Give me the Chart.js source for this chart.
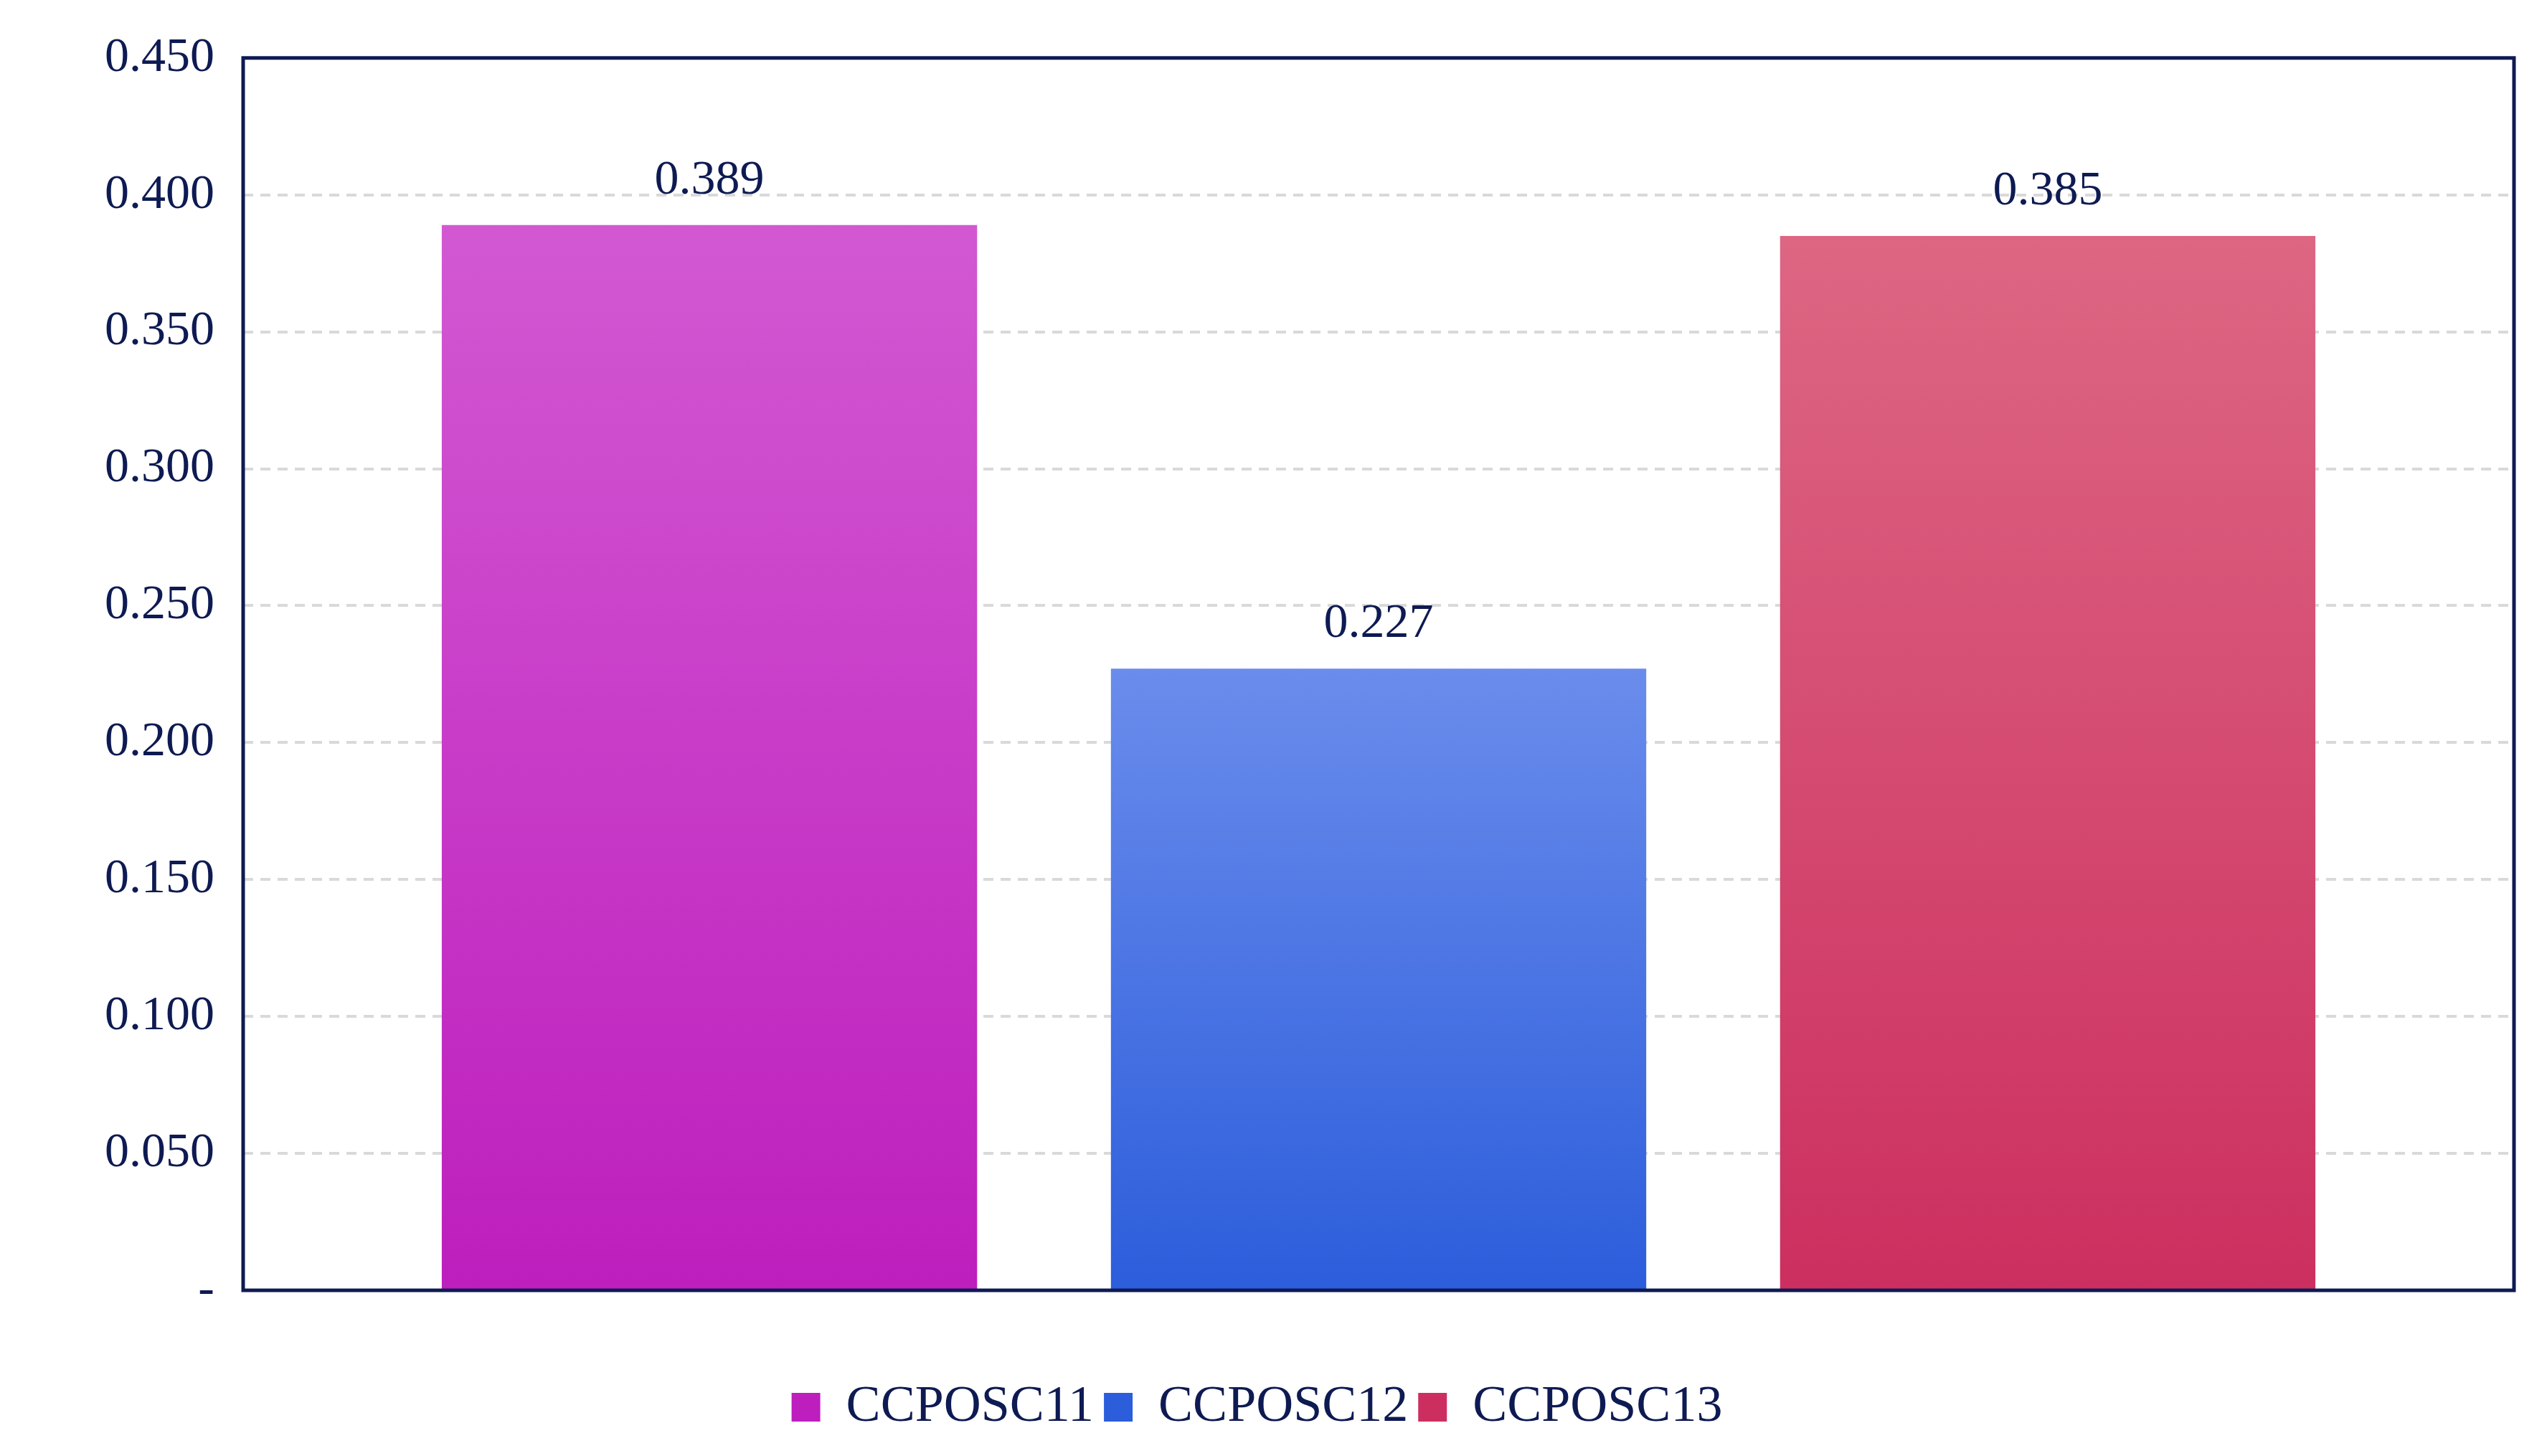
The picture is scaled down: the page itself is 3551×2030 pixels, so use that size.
<!DOCTYPE html>
<html><head><meta charset="utf-8">
<script src="https://cdn.jsdelivr.net/npm/chart.js@4/dist/chart.umd.min.js"></script>
<style>html,body{margin:0;padding:0;background:#fff}#c{display:block}</style>
</head><body>
<canvas id="c" width="3551" height="2030"></canvas>
<script>
const categories = [''];
const seriesNames = ['CCPOSC11','CCPOSC12','CCPOSC13'];
const seriesValues = [0.389, 0.227, 0.385];
const gradTop = ['#d258d2','#6a8cec','#dd6683'];
const gradBot = ['#bd1ebd','#2c5ddb','#cc2f5f'];
const navy = '#0e1a52';
const font = 'Liberation Serif';

function grad(i){
  return (ctx)=>{
    const ca = ctx.chart.chartArea;
    if(!ca) return gradBot[i];
    const y = ctx.chart.scales.y;
    const g = ctx.chart.ctx.createLinearGradient(0, y.getPixelForValue(seriesValues[i]), 0, ca.bottom);
    g.addColorStop(0, gradTop[i]); g.addColorStop(1, gradBot[i]);
    return g;
  };
}
const labelPlugin = {
  id:'labels',
  afterDatasetsDraw(chart){
    const c = chart.ctx;
    c.save(); c.fillStyle = navy; c.font = `68px "${font}"`;
    c.textAlign='center'; c.textBaseline='bottom';
    chart.data.datasets.forEach((d,i)=>{
      const el = chart.getDatasetMeta(i).data[0];
      c.fillText(d.data[0].toFixed(3), el.x, el.y - 28);
    });
    c.restore();
  }
};
const borderPlugin = {
  id:'border',
  afterDraw(chart){
    const ca = chart.chartArea, c = chart.ctx;
    c.save(); c.strokeStyle = navy; c.lineWidth = 5;
    c.strokeRect(ca.left, ca.top, ca.right-ca.left, ca.bottom-ca.top);
    c.restore();
  }
};
new Chart(document.getElementById('c'), {
  type:'bar',
  data:{ labels: categories, datasets: seriesNames.map((n,i)=>({
    label:n, data:[seriesValues[i]], backgroundColor: grad(i), borderWidth:0,
    categoryPercentage:0.884, barPercentage:0.80 })) },
  options:{
    responsive:false, animation:false, devicePixelRatio:1,
    layout:{padding:{top:68,right:46,bottom:22,left:0}},
    plugins:{
      tooltip:{enabled:false},
      legend:{position:'bottom', labels:{font:{family:font,size:72}, color:navy,
        boxWidth:40, boxHeight:40, padding:14,
        generateLabels:(ch)=>seriesNames.map((n,i)=>({text:n, fillStyle:gradBot[i], strokeStyle:gradBot[i], lineWidth:0, fontColor:navy, datasetIndex:i}))}}
    },
    scales:{
      x:{ticks:{display:false}, grid:{display:false}, border:{display:false},
        afterFit:(s)=>{s.height=113;}},
      y:{min:0,max:0.45,
        ticks:{stepSize:0.05, color:navy, font:{family:font,size:68}, padding:40,
          callback:(v)=> Math.abs(v)<1e-9 ? '-' : v.toFixed(3)},
        grid:{color:'#d9d9d9', lineWidth:4, drawTicks:false},
        border:{display:false, dash:[14,10]},
        afterFit:(s)=>{s.width=339;}}
    }
  },
  plugins:[labelPlugin, borderPlugin]
});
</script>
</body></html>
